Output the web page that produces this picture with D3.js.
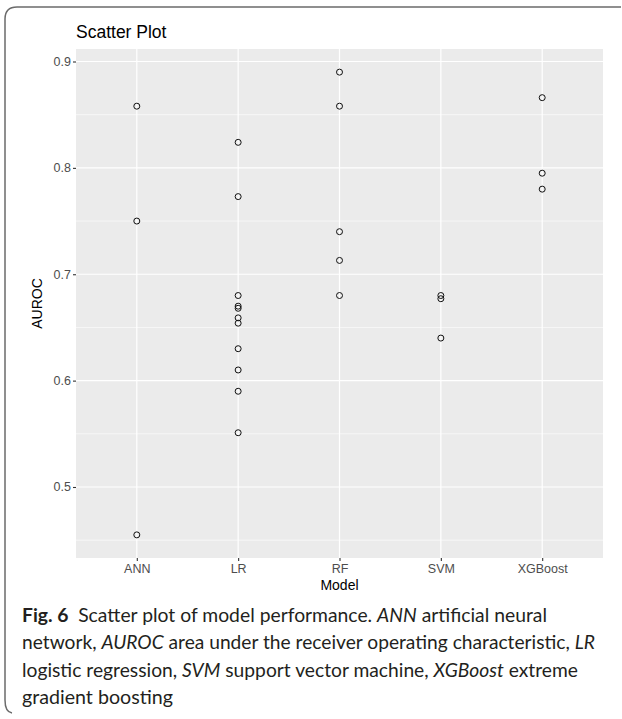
<!DOCTYPE html>
<html>
<head>
<meta charset="utf-8">
<script src="https://cdn.jsdelivr.net/npm/d3@7"></script>
<style>
  body { margin: 0; background: #fff; }
  svg text { font-family: "Liberation Sans", Arial, sans-serif; }
  .caption text { font-family: Lato, "Open Sans", sans-serif; }
</style>
</head>
<body>
<div id="chart"></div>
<script>
// Models on the x axis and the AUROC values
var models = ["ANN", "LR", "RF", "SVM", "XGBoost"];
var annAuroc = [0.858, 0.750, 0.455];
var lrAuroc = [0.824, 0.773, 0.680, 0.670, 0.668, 0.659, 0.654, 0.630, 0.610, 0.590, 0.551];
var rfAuroc = [0.890, 0.858, 0.740, 0.713, 0.680];
var svmAuroc = [0.680, 0.677, 0.640];
var xgbAuroc = [0.866, 0.795, 0.780];
var yTicks = [0.5, 0.6, 0.7, 0.8, 0.9];
var yMinorTicks = [0.45, 0.55, 0.65, 0.75, 0.85];

// Build point table
var points = [];
[annAuroc, lrAuroc, rfAuroc, svmAuroc, xgbAuroc].forEach(function(vals, i) {
    vals.forEach(function(v) { points.push({ model: models[i], auroc: v }); });
});

///////////  SVG  ///////////
var svgWidth = 622;
var svgHeight = 719;

var panel = { left: 76, top: 49, right: 603, bottom: 558 };

var svg = d3.select("#chart").append("svg")
    .attr("width", svgWidth)
    .attr("height", svgHeight);

// Figure border (top and left with rounded corners)
svg.append("path")
    .attr("d", "M 621 7 L 17 7 Q 5 7 5 19 L 5 700 Q 5 712 12 713")
    .attr("fill", "none")
    .attr("stroke", "#6b6b6b")
    .attr("stroke-width", 1.5);

// Scales (ggplot style expansion)
var yMin = d3.min(points, d => d.auroc), yMax = d3.max(points, d => d.auroc);
var yPad = (yMax - yMin) * 0.05;
var yScale = d3.scaleLinear()
    .domain([yMin - yPad, yMax + yPad])
    .range([panel.bottom, panel.top]);

var xScale = d3.scalePoint()
    .domain(models)
    .range([panel.left, panel.right])
    .padding(0.6);

// Panel background
svg.append("rect")
    .attr("x", panel.left).attr("y", panel.top)
    .attr("width", panel.right - panel.left)
    .attr("height", panel.bottom - panel.top)
    .attr("fill", "#ebebeb");

// Grid lines
var grid = svg.append("g");
grid.selectAll(".minor").data(yMinorTicks).enter().append("line")
    .attr("x1", panel.left).attr("x2", panel.right)
    .attr("y1", d => yScale(d)).attr("y2", d => yScale(d))
    .attr("stroke", "#fff").attr("stroke-width", 0.6);
grid.selectAll(".major").data(yTicks).enter().append("line")
    .attr("x1", panel.left).attr("x2", panel.right)
    .attr("y1", d => yScale(d)).attr("y2", d => yScale(d))
    .attr("stroke", "#fff").attr("stroke-width", 1.2);
grid.selectAll(".vmajor").data(models).enter().append("line")
    .attr("y1", panel.top).attr("y2", panel.bottom)
    .attr("x1", d => xScale(d)).attr("x2", d => xScale(d))
    .attr("stroke", "#fff").attr("stroke-width", 1.2);

// Axes
var leftAxis = d3.axisLeft(yScale).tickValues(yTicks).tickSize(3).tickPadding(2)
    .tickFormat(d3.format(".1f"));
var bottomAxis = d3.axisBottom(xScale).tickSize(3).tickPadding(3);

var yAxis = svg.append("g")
    .attr("transform", `translate(${panel.left}, 0)`)
    .call(leftAxis);
var xAxis = svg.append("g")
    .attr("transform", `translate(0, ${panel.bottom})`)
    .call(bottomAxis);

[yAxis, xAxis].forEach(function(ax) {
    ax.select(".domain").remove();
    ax.selectAll(".tick line").attr("stroke", "#333").attr("stroke-width", 1.1);
    ax.selectAll(".tick text").attr("fill", "#4d4d4d").style("font-size", "12.5px");
});

// Points (open circles)
svg.append("g").selectAll("circle").data(points).enter().append("circle")
    .attr("cx", d => xScale(d.model))
    .attr("cy", d => yScale(d.auroc))
    .attr("r", 3)
    .attr("fill", "none")
    .attr("stroke", "#111")
    .attr("stroke-width", 1);

// Titles
svg.append("text")
    .attr("x", panel.left).attr("y", 38)
    .style("font-size", "17.5px")
    .text("Scatter Plot");

svg.append("text")
    .attr("x", (panel.left + panel.right) / 2).attr("y", 590)
    .attr("text-anchor", "middle")
    .style("font-size", "14px")
    .text("Model");

svg.append("text")
    .attr("transform", `translate(42, ${(panel.top + panel.bottom) / 2}) rotate(-90)`)
    .attr("text-anchor", "middle")
    .style("font-size", "14px")
    .text("AUROC");

// Caption
var captionLines = [
    [["b", "Fig. 6"], ["n", "\u2002Scatter plot of model performance. "], ["i", "ANN"], ["n", " artificial neural"]],
    [["n", "network, "], ["i", "AUROC"], ["n", " area under the receiver operating characteristic, "], ["i", "LR"]],
    [["n", "logistic regression, "], ["i", "SVM"], ["n", " support vector machine, "], ["i", "XGBoost"], ["n", " extreme"]],
    [["n", "gradient boosting"]]
];
var captionWidths = [525, 573, 556, 151];
var capGrp = svg.append("g").attr("class", "caption");
captionLines.forEach(function(line, i) {
    var t = capGrp.append("text")
        .attr("x", 22).attr("y", 622 + i * 27.3)
        .attr("fill", "#231f20")
        .attr("textLength", captionWidths[i])
        .attr("lengthAdjust", "spacingAndGlyphs")
        .style("font-size", "19px");
    line.forEach(function(seg) {
        t.append("tspan")
            .style("font-weight", seg[0] === "b" ? "bold" : "normal")
            .style("font-style", seg[0] === "i" ? "italic" : "normal")
            .text(seg[1]);
    });
});
</script>
</body>
</html>
